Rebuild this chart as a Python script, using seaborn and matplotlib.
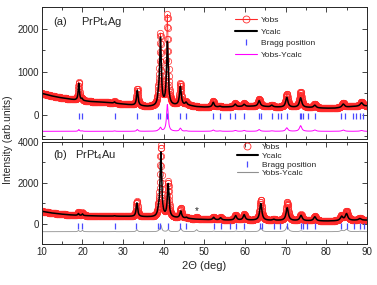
import numpy as np
import seaborn as sns
import matplotlib
matplotlib.use('Agg')
import matplotlib.pyplot as plt
from matplotlib.lines import Line2D
from matplotlib.ticker import MultipleLocator

### values

# background (Ycalc) every 2 deg, 10..90
bg_x = list(range(10, 91, 2))
bg_ag = [500, 450, 410, 380, 350, 330, 310, 300, 290, 270, 250, 230, 210, 190,
         190, 200, 210, 220, 220, 190, 180, 180, 180, 185, 190, 195, 200, 200,
         185, 180, 175, 175, 175, 170, 160, 155, 155, 170, 190, 200, 205]
bg_au = [600, 530, 480, 440, 410, 390, 380, 370, 365, 360, 355, 345, 335, 320,
         300, 290, 280, 260, 240, 210, 195, 180, 170, 165, 165, 165, 160, 155,
         150, 150, 145, 140, 135, 130, 125, 120, 125, 135, 150, 160, 165]

# peaks: position, calc height, obs height (above background)
pk_ag_pos = [19.1, 19.9, 27.9, 33.5, 38.7, 39.2, 40.9, 44.1, 45.5, 52.2, 53.8,
             57.6, 59.8, 63.5, 66.6, 70.3, 73.7, 77.2, 84.2, 88.7]
pk_ag_calc = [390, 40, 30, 350, 150, 1550, 1470, 430, 60, 110, 20,
              60, 50, 130, 40, 230, 220, 60, 80, 80]
pk_ag_obs = [430, 50, 40, 390, 170, 1630, 2090, 500, 70, 140, 30,
             80, 70, 170, 50, 310, 350, 90, 110, 100]

pk_au_pos = [19.0, 20.0, 27.9, 33.4, 38.7, 39.3, 41.1, 44.2, 45.6, 48.1, 52.3,
             54.0, 57.7, 59.8, 63.9, 67.1, 70.4, 73.8, 77.2, 83.8, 85.0, 88.3]
pk_au_calc = [90, 80, 20, 670, 200, 3160, 1620, 340, 50, 0, 120,
              110, 220, 260, 820, 50, 625, 260, 200, 200, 330, 80]
pk_au_obs = [150, 150, 30, 770, 220, 3480, 1720, 500, 60, 100, 150,
             130, 250, 290, 1010, 60, 900, 300, 220, 260, 450, 100]

bragg_ag = [19.1, 19.9, 27.9, 33.5, 38.7, 39.2, 40.9, 44.1, 45.5, 52.2, 53.8,
            56.4, 57.6, 59.8, 63.4, 63.9, 66.6, 68.2, 68.8, 70.4, 73.5, 73.8,
            74.2, 75.6, 77.2, 83.6, 84.7, 86.5, 87.3, 88.3, 89.0]
bragg_au = [19.0, 20.0, 27.9, 33.3, 38.7, 39.2, 41.1, 44.0, 45.6, 52.4, 54.0,
            56.3, 57.8, 59.8, 63.7, 64.1, 67.1, 68.6, 70.4, 73.8, 74.4, 75.3,
            77.2, 83.6, 85.0, 86.8, 88.3, 89.3]

###

tth = np.arange(10, 90.001, 0.05)

def profile(bg, pos, hts):
    y = np.interp(tth, bg_x, bg)
    for p, h in zip(pos, hts):
        w = 0.3 + 0.006 * (p - 10)
        y = y + h * (w / 2) ** 2 / ((tth - p) ** 2 + (w / 2) ** 2)
    return y

calc_ag = profile(bg_ag, pk_ag_pos, pk_ag_calc)
obs_ag = profile(bg_ag, pk_ag_pos, pk_ag_obs)
calc_au = profile(bg_au, pk_au_pos, pk_au_calc)
obs_au = profile(bg_au, pk_au_pos, pk_au_obs)

sns.set_theme(style='ticks')
plt.rcParams['font.family'] = ['Liberation Sans', 'DejaVu Sans']
plt.rcParams['mathtext.fontset'] = 'custom'
plt.rcParams['mathtext.rm'] = 'Liberation Sans'
plt.rcParams['mathtext.it'] = 'Liberation Sans'

fig = plt.figure(figsize=(3.77, 2.85), dpi=100)
ax1 = fig.add_axes([0.111, 0.512, 0.862, 0.463])
ax2 = fig.add_axes([0.111, 0.144, 0.862, 0.358])

red = '#ff2a2a'
blue = '#4a4aff'

# top: PrPt4Ag
sns.lineplot(x=tth, y=obs_ag, ax=ax1, color=red, lw=0.5, marker='o', ms=4.6,
             mfc='none', mec=red, mew=0.5, estimator=None, sort=False)
sns.lineplot(x=tth, y=calc_ag, ax=ax1, color='black', lw=1.1,
             estimator=None, sort=False)
sns.lineplot(x=tth, y=obs_ag - calc_ag - 380, ax=ax1, color='#ff00ff', lw=0.7,
             estimator=None, sort=False)
ax1.plot(bragg_ag, [-30] * len(bragg_ag), ls='none', marker='|', ms=5,
         mew=0.9, color=blue)

# bottom: PrPt4Au
sns.lineplot(x=tth, y=obs_au, ax=ax2, color=red, lw=0, marker='o', ms=4.6,
             mfc='none', mec=red, mew=0.5, estimator=None, sort=False)
sns.lineplot(x=tth, y=calc_au, ax=ax2, color='black', lw=1.1,
             estimator=None, sort=False)
sns.lineplot(x=tth, y=obs_au - calc_au - 400, ax=ax2, color='#909090', lw=0.6,
             estimator=None, sort=False)
ax2.plot(bragg_au, [-100] * len(bragg_au), ls='none', marker='|', ms=5,
         mew=0.9, color=blue)
ax2.text(48.1, 620, '*', fontsize=7, ha='center', va='center')

ax1.set_ylim(-560, 2500)
ax2.set_ylim(-1000, 4000)
for ax in (ax1, ax2):
    ax.set_xlim(10, 90)
    ax.xaxis.set_major_locator(MultipleLocator(10))
    ax.xaxis.set_minor_locator(MultipleLocator(5))
    ax.tick_params(which='both', direction='in', top=True, right=True,
                   labelsize=7, width=0.6, pad=2)
    ax.tick_params(which='major', length=3.5)
    ax.tick_params(which='minor', length=2)
    for s in ax.spines.values():
        s.set_linewidth(0.7)
    ax.set_xlabel('')
    ax.set_ylabel('')
ax1.yaxis.set_major_locator(MultipleLocator(1000))
ax1.yaxis.set_minor_locator(MultipleLocator(500))
ax2.yaxis.set_major_locator(MultipleLocator(2000))
ax2.yaxis.set_minor_locator(MultipleLocator(1000))
ax1.tick_params(labelbottom=False)

ax1.text(12.7, 2150, '(a)', fontsize=8, va='center')
ax1.text(19.6, 2150, 'PrPt$_4$Ag', fontsize=8, va='center')
ax2.text(12.7, 3370, '(b)', fontsize=8, va='center')
ax2.text(18.1, 3370, 'PrPt$_4$Au', fontsize=8, va='center')

ax2.set_xlabel('2Θ (deg)', fontsize=8, labelpad=3)
fig.text(0.021, 0.51, 'Intensity (arb.units)', rotation=90, fontsize=7.5,
         ha='center', va='center')

h_top = [Line2D([], [], color=red, lw=0.8, marker='o', ms=5, mfc='none', mew=0.6),
         Line2D([], [], color='black', lw=1.5),
         Line2D([], [], color=blue, ls='none', marker='|', ms=5, mew=0.9),
         Line2D([], [], color='#ff00ff', lw=0.8)]
h_bot = [Line2D([], [], color=red, ls='none', marker='o', ms=5, mfc='none', mew=0.6),
         Line2D([], [], color='black', lw=1.5),
         Line2D([], [], color=blue, ls='none', marker='|', ms=5, mew=0.9),
         Line2D([], [], color='#909090', lw=0.8)]
labels = ['Yobs', 'Ycalc', 'Bragg position', 'Yobs-Ycalc']
ax1.legend(h_top, labels, loc='upper left', bbox_to_anchor=(0.594, 0.93),
           frameon=False, fontsize=6, handlelength=2.6, handletextpad=0.5,
           borderpad=0, borderaxespad=0, labelspacing=0.45, numpoints=1)
ax2.legend(h_bot, labels, loc='upper left', bbox_to_anchor=(0.599, 0.985),
           frameon=False, fontsize=6, handlelength=2.6, handletextpad=0.5,
           borderpad=0, borderaxespad=0, labelspacing=0.1, numpoints=1)

fig.savefig('out.png', dpi=100)
